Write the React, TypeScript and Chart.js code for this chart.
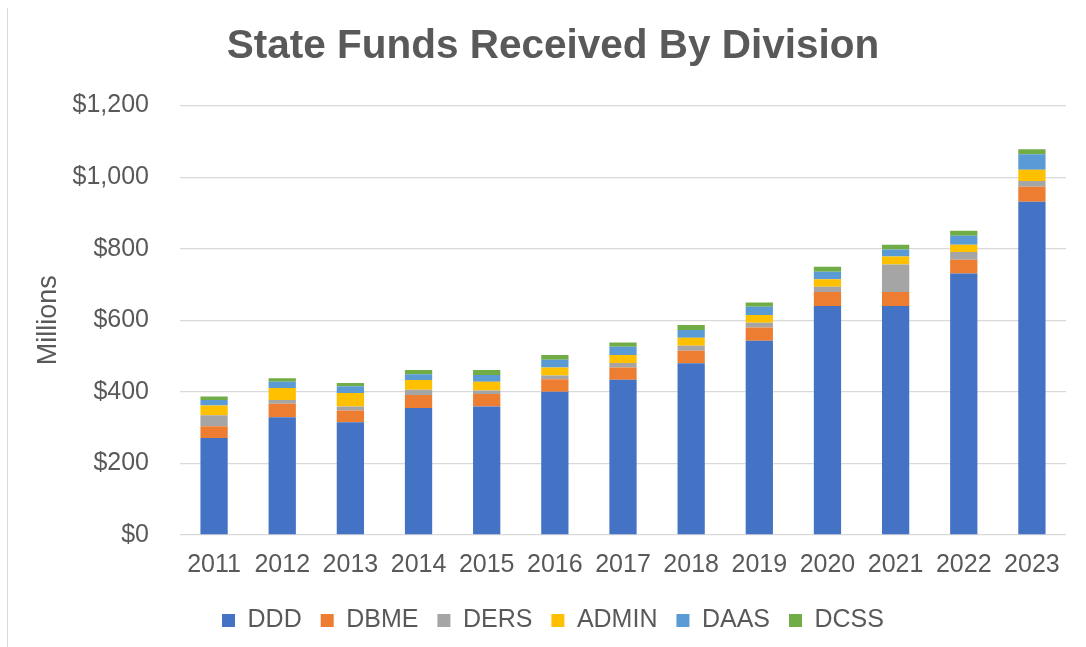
import React, { useEffect, useRef } from "react";
import { Chart, registerables } from "chart.js";

Chart.register(...registerables);

const years = ["2011", "2012", "2013", "2014", "2015", "2016", "2017", "2018", "2019", "2020", "2021", "2022", "2023"];
const ddd = [271, 329, 315, 355, 359, 400, 434, 480, 543, 640, 640, 731, 931];
const dbme = [33, 38, 33, 36, 35, 35, 34, 35, 37, 39, 39, 38, 42];
const ders = [31, 10, 11, 15, 10, 11, 13, 14, 13, 15, 77, 22, 16];
const admin = [27, 34, 38, 27, 24, 22, 22, 22, 22, 21, 22, 20, 32];
const daas = [15, 17, 19, 16, 19, 22, 23, 22, 23, 21, 20, 25, 43];
const dcss = [10, 10, 9, 12, 14, 13, 12, 14, 12, 14, 13, 14, 14];
const yTicks = [0, 200, 400, 600, 800, 1000, 1200];

const TEXT = "#595959";
const FONT = "'Liberation Sans', Arial, sans-serif";

export default function App() {
  const ref = useRef<HTMLCanvasElement | null>(null);

  useEffect(() => {
    if (!ref.current) return;
    const mk = (label: string, data: number[], color: string) => ({
      label,
      data,
      backgroundColor: color,
      borderWidth: 0,
      categoryPercentage: 1,
      barPercentage: 0.4,
    });
    const chart = new Chart(ref.current, {
      type: "bar",
      data: {
        labels: years,
        datasets: [
          mk("DDD", ddd, "#4472C4"),
          mk("DBME", dbme, "#ED7D31"),
          mk("DERS", ders, "#A5A5A5"),
          mk("ADMIN", admin, "#FFC000"),
          mk("DAAS", daas, "#5B9BD5"),
          mk("DCSS", dcss, "#70AD47"),
        ],
      },
      options: {
        responsive: false,
        animation: false,
        layout: { padding: { left: 32, right: 20, top: 0, bottom: 4 } },
        plugins: {
          title: {
            display: true,
            text: "State Funds Received By Division",
            color: TEXT,
            font: { family: FONT, size: 40.5, weight: "bold" },
            padding: { top: 15, bottom: 34 },
          },
          legend: {
            position: "bottom",
            labels: {
              boxWidth: 13,
              boxHeight: 13,
              padding: 19,
              color: TEXT,
              font: { family: FONT, size: 25 },
            },
          },
          tooltip: { enabled: false },
        },
        scales: {
          x: {
            stacked: true,
            grid: { display: false },
            border: { display: false },
            ticks: { color: TEXT, font: { family: FONT, size: 25 }, padding: 7, maxRotation: 0 },
            afterFit: (s: any) => {
              s.height = 54;
            },
          },
          y: {
            stacked: true,
            min: 0,
            max: 1200,
            afterBuildTicks: (s: any) => {
              s.ticks = yTicks.map((v) => ({ value: v }));
            },
            grid: { color: "#D9D9D9", lineWidth: 1.3, drawTicks: false },
            border: { display: false },
            ticks: {
              color: TEXT,
              font: { family: FONT, size: 25 },
              padding: 31,
              callback: (v: any) => "$" + Number(v).toLocaleString("en-US"),
            },
            title: {
              display: true,
              text: "Millions",
              color: TEXT,
              font: { family: FONT, size: 27 },
              padding: { top: -8, bottom: 9 },
            },
            afterFit: (s: any) => {
              s.width = 140;
            },
          },
        },
      },
    });
    return () => chart.destroy();
  }, []);

  return (
    <div
      style={{
        position: "fixed",
        left: 7,
        top: 8,
        width: 1079,
        height: 639,
        borderLeft: "1px solid #D9D9D9",
        background: "#fff",
      }}
    >
      <canvas ref={ref} width={1078} height={639} style={{ display: "block" }} />
    </div>
  );
}
